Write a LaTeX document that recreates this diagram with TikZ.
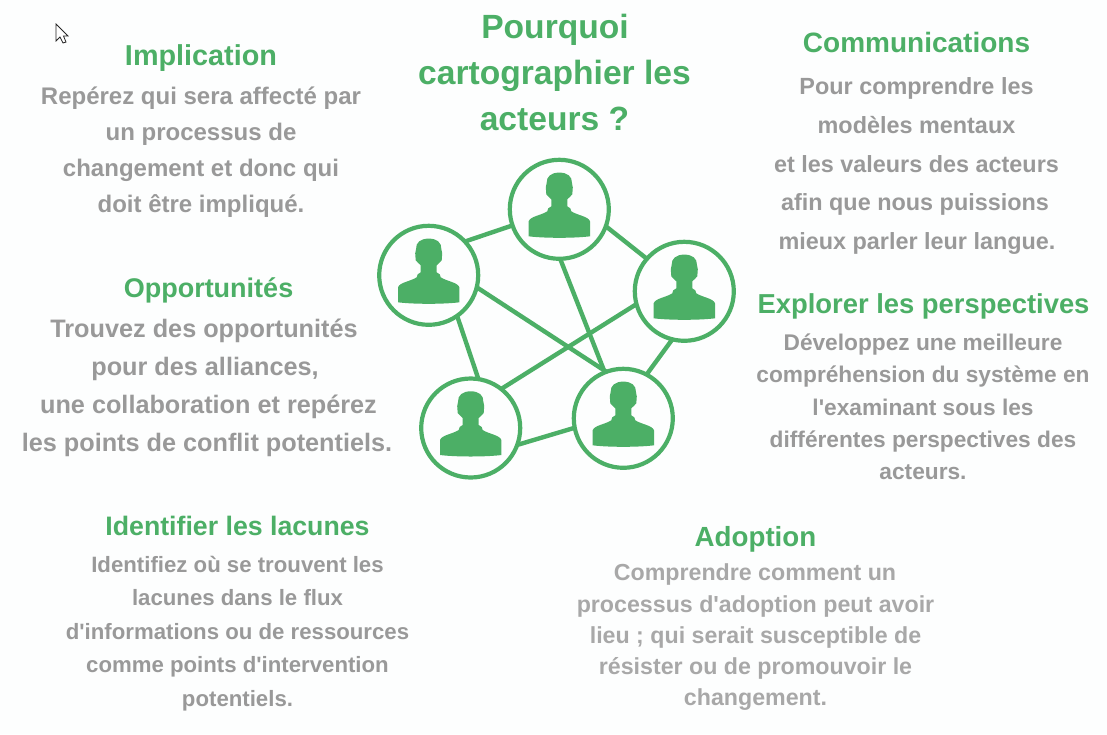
\documentclass[tikz,border=0pt]{standalone}
\usepackage{fontspec}
\newfontfamily\lsans{Liberation Sans}
\definecolor{gr}{RGB}{76,175,102}
\definecolor{gy}{RGB}{153,153,153}
\definecolor{gyl}{RGB}{168,168,168}
\definecolor{bgc}{RGB}{253,254,254}
\tikzset{
  txt/.style={anchor=base,inner sep=0pt,outer sep=0pt,font=\lsans\bfseries\fontsize{#1}{#1}\selectfont},
  head/.style={txt=#1,text=gr},
  body/.style={txt=#1,text=gy},
  bodyl/.style={txt=#1,text=gyl},
  actor/.style={circle,draw=gr,line width=4.2pt,minimum size=99pt,inner sep=0pt,outer sep=0pt},
  link/.style={draw=gr,line width=4.4pt},
  person/.pic={
    \fill[gr] (0,-36.7) .. controls (8,-36.7) and (13,-33) .. (12.7,-26)
      -- (13.5,-22) -- (13,-15) .. controls (12,-12.5) and (9,-12) .. (8,-10)
      -- (8,-3) -- (11,-1) -- (12,2) .. controls (18,6) and (29,7) .. (30.7,12)
      -- (30.7,27) .. controls (15,29) and (-15,29) .. (-30.7,27)
      -- (-30.7,12) .. controls (-29,7) and (-18,6) .. (-12,2) -- (-11,-1) -- (-8,-3)
      -- (-8,-10) .. controls (-9,-12) and (-12,-12.5) .. (-13,-15) -- (-13.5,-22)
      -- (-12.7,-26) .. controls (-13,-33) and (-8,-36.7) .. (0,-36.7) -- cycle;
  }
}
\begin{document}
\begin{tikzpicture}[x=1pt,y=-1pt]
\fill[bgc] (0,0) rectangle (1107,734);
\useasboundingbox (0,0) rectangle (1107,734);
% cursor
\draw[draw=black!85,fill=white,line width=0.8pt,line join=miter]
  (56,24) -- (56,41) -- (60,37) -- (63,43) -- (66,42) -- (63.5,36) -- (68,36) -- cycle;
% actors
\node[actor] (top) at (559.3,209.3) {};
\node[actor] (lft) at (428.7,275.3) {};
\node[actor] (rgt) at (684.3,291.3) {};
\node[actor] (bl) at (470.7,428) {};
\node[actor] (br) at (623.3,418.3) {};
\foreach \c in {top,lft,rgt,bl,br} \pic at (\c) {person};
\draw[link] (lft.43) -- (top.199.4);
\draw[link] (top.-20) -- (rgt.139);
\draw[link] (rgt.-104) -- (br.62.8);
\draw[link] (br.191.3) -- (bl.-20.7);
\draw[link] (bl.81.4) -- (lft.-55.5);
\draw[link] (lft.-14.2) -- (br.110.7);
\draw[link] (top.-89) -- (br.112);
\draw[link] (rgt.195.5) -- (bl.52.7);
% title
\node[head=33.6] (t1) at (555,38) {Pourquoi};
\node[head=33.6] (t2) at (554.5,84) {cartographier les};
\node[head=33.6] (t3) at (554.5,130) {acteurs ?};
% Implication
\node[head=28.8] (a0) at (201,65) {Implication};
\node[body=24] (a1) at (201,104) {Repérez qui sera affecté par};
\node[body=24] (a2) at (201,140) {un processus de};
\node[body=24] (a3) at (201,176) {changement et donc qui};
\node[body=24] (a4) at (201,212) {doit être impliqué.};
% Opportunites
\node[head=27] (b0) at (208.5,297) {Opportunités};
\node[body=25.25] (b1) at (204,337) {Trouvez des opportunités};
\node[body=25.25] (b2) at (205,375) {pour des alliances,};
\node[body=25.25] (b3) at (208.5,413) {une collaboration et repérez};
\node[body=25.25] (b4) at (207,451) {les points de conflit potentiels.};
% Lacunes
\node[head=26.7] (c0) at (237.5,535) {Identifier les lacunes};
\node[body=22.2] (c1) at (237.5,572) {Identifiez où se trouvent les};
\node[body=22.2] (c2) at (237.5,605) {lacunes dans le flux};
\node[body=22.2] (c3) at (237.5,639) {d'informations ou de ressources};
\node[body=22.2] (c4) at (237.5,672) {comme points d'intervention};
\node[body=22.2] (c5) at (237.5,706) {potentiels.};
% Communications
\node[head=28] (d0) at (916.5,52) {Communications};
\node[body=23.4] (d1) at (916.5,94) {Pour comprendre les};
\node[body=23.4] (d2) at (916.5,133) {modèles mentaux};
\node[body=23.4] (d3) at (916.5,172) {et les valeurs des acteurs};
\node[body=23.4] (d4) at (915,210) {afin que nous puissions};
\node[body=23.4] (d5) at (917,249) {mieux parler leur langue.};
% Perspectives
\node[head=27.4] (e0) at (923.5,313) {Explorer les perspectives};
\node[body=22.7] (e1) at (923,350) {Développez une meilleure};
\node[body=22.7] (e2) at (923,382) {compréhension du système en};
\node[body=22.7] (e3) at (923,415) {l'examinant sous les};
\node[body=22.7] (e4) at (923,447) {différentes perspectives des};
\node[body=22.7] (e5) at (923,479) {acteurs.};
% Adoption
\node[head=27.7] (f0) at (755.5,546) {Adoption};
\node[bodyl=23.2] (f1) at (755,580) {Comprendre comment un};
\node[bodyl=23.2] (f2) at (755.5,612) {processus d'adoption peut avoir};
\node[bodyl=23.2] (f3) at (755.5,643) {lieu ; qui serait susceptible de};
\node[bodyl=23.2] (f4) at (755.5,674) {résister ou de promouvoir le};
\node[bodyl=23.2] (f5) at (755.5,705) {changement.};
\end{tikzpicture}
\end{document}
